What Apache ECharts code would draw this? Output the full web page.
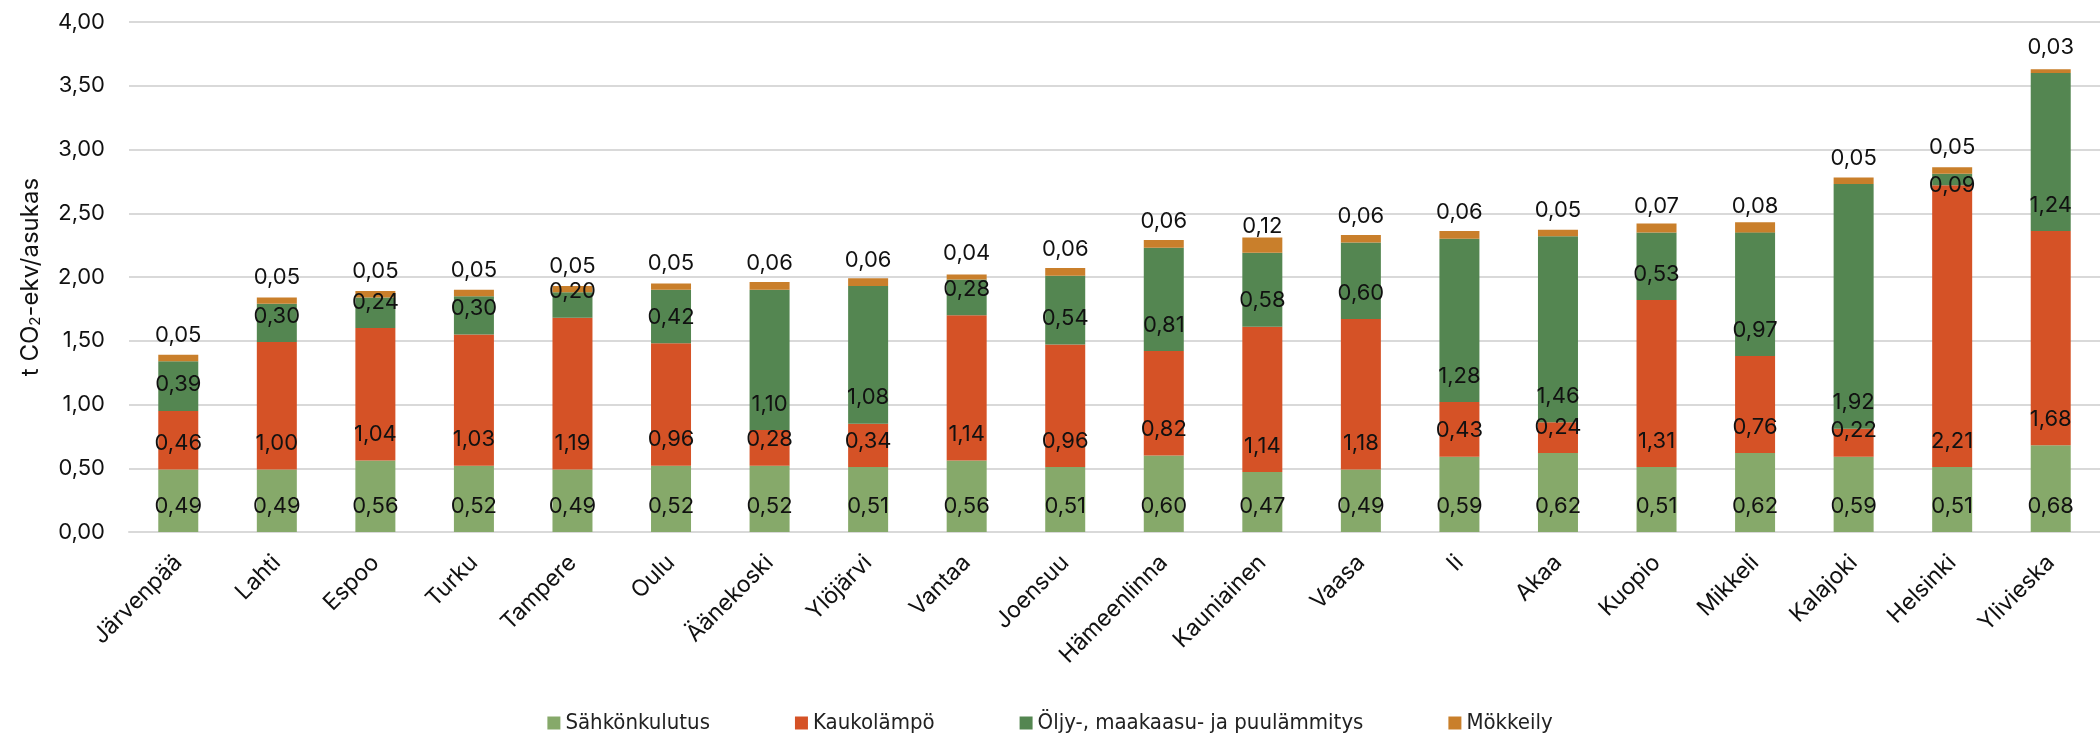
<!DOCTYPE html>
<html>
<head>
<meta charset="utf-8">
<script src="https://cdn.jsdelivr.net/npm/echarts@6/dist/echarts.min.js"></script>
<style>
  html, body { margin: 0; padding: 0; background: #fff; }
  #chart { width: 2100px; height: 737px; }
</style>
</head>
<body>
<div id="chart"></div>
<script>
const categories = ['Järvenpää', 'Lahti', 'Espoo', 'Turku', 'Tampere', 'Oulu', 'Äänekoski', 'Ylöjärvi', 'Vantaa', 'Joensuu',
	'Hämeenlinna', 'Kauniainen', 'Vaasa', 'Ii', 'Akaa', 'Kuopio', 'Mikkeli', 'Kalajoki', 'Helsinki', 'Ylivieska'];
const sahkonkulutus = [0.49, 0.49, 0.56, 0.52, 0.49, 0.52, 0.52, 0.51, 0.56, 0.51, 0.60, 0.47, 0.49, 0.59, 0.62, 0.51, 0.62, 0.59, 0.51, 0.68];
const kaukolampo = [0.46, 1.00, 1.04, 1.03, 1.19, 0.96, 0.28, 0.34, 1.14, 0.96, 0.82, 1.14, 1.18, 0.43, 0.24, 1.31, 0.76, 0.22, 2.21, 1.68];
const oljyMaakaasuPuu = [0.39, 0.30, 0.24, 0.30, 0.20, 0.42, 1.10, 1.08, 0.28, 0.54, 0.81, 0.58, 0.60, 1.28, 1.46, 0.53, 0.97, 1.92, 0.09, 1.24];
const mokkeily = [0.05, 0.05, 0.05, 0.05, 0.05, 0.05, 0.06, 0.06, 0.04, 0.06, 0.06, 0.12, 0.06, 0.06, 0.05, 0.07, 0.08, 0.05, 0.05, 0.03];

function fmt(v) {
	return v.toFixed(2).replace('.', ',');
}

var dom = document.getElementById('chart');
var myChart = echarts.init(dom, null, { renderer: 'canvas' });

const labelStyle = {
	show: true,
	position: 'insideBottom',
	distance: 15,
	fontFamily: 'Inter',
	fontWeight: 400,
	fontSize: 22,
	color: '#111',
	formatter: function (p) { return fmt(p.value); }
};

function barSeries(name, data) {
	return {
		name: name,
		type: 'bar',
		stack: 'total',
		barWidth: 40,
		data: data,
		label: labelStyle
	};
}

// Helsinki's thin green segment has its label sitting on the segment base
var oljyData = oljyMaakaasuPuu.map(function (v, i) {
	if (categories[i] === 'Helsinki') {
		return { value: v, label: { distance: -11 } };
	}
	return v;
});

var option = {
	animation: false,
	color: ['#86a96a', '#d55226', '#548651', '#c97f2b'],
	grid: {
		left: 129,
		right: -18,
		top: 22,
		bottom: 205
	},
	legend: {
		bottom: 3,
		padding: 0,
		left: 'center',
		icon: 'rect',
		itemWidth: 13,
		itemHeight: 13,
		itemGap: 85,
		textStyle: {
			fontFamily: 'DejaVu Sans Condensed',
			fontSize: 22,
			color: '#222'
		}
	},
	xAxis: {
		type: 'category',
		data: categories,
		axisTick: { show: false },
		axisLine: { lineStyle: { color: '#d9d9d9', width: 2 } },
		axisLabel: {
			rotate: 45,
			interval: 0,
			margin: 27,
			fontFamily: 'Inter',
			fontWeight: 400,
			fontSize: 23,
			color: '#111'
		}
	},
	yAxis: {
		type: 'value',
		min: 0,
		max: 4,
		interval: 0.5,
		name: '{a|t CO}{s|2}{a|-ekv/asukas}',
		nameLocation: 'middle',
		nameGap: 86,
		nameTextStyle: {
			rich: {
				a: { fontFamily: 'Inter', fontWeight: 400, fontSize: 24, color: '#111' },
				s: { fontFamily: 'Inter', fontWeight: 400, fontSize: 15, color: '#111', padding: [10, 0, 0, 0] }
			}
		},
		axisLine: { show: false },
		axisTick: { show: false },
		splitLine: { lineStyle: { color: '#d9d9d9', width: 2 } },
		axisLabel: {
			margin: 24,
			fontFamily: 'Inter',
			fontWeight: 400,
			fontSize: 22,
			color: '#111',
			formatter: fmt
		}
	},
	series: [
		barSeries('Sähkönkulutus', sahkonkulutus),
		barSeries('Kaukolämpö', kaukolampo),
		barSeries('Öljy-, maakaasu- ja puulämmitys', oljyData),
		barSeries('Mökkeily', mokkeily)
	]
};

myChart.setOption(option);
window.addEventListener('resize', myChart.resize);
</script>
</body>
</html>
